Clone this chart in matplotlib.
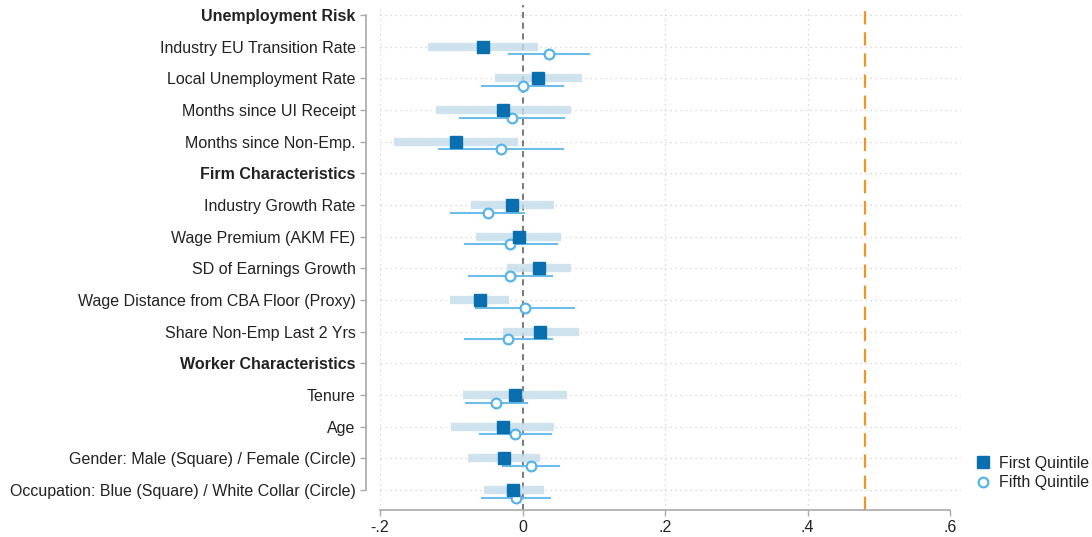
import matplotlib
matplotlib.use("Agg")
import matplotlib.pyplot as plt
from matplotlib.lines import Line2D
import numpy as np

plt.rcParams['font.family'] = ['Liberation Sans', 'DejaVu Sans']

labels = [
    "Unemployment Risk",
    "Industry EU Transition Rate",
    "Local Unemployment Rate",
    "Months since UI Receipt",
    "Months since Non-Emp.",
    "Firm Characteristics",
    "Industry Growth Rate",
    "Wage Premium (AKM FE)",
    "SD of Earnings Growth",
    "Wage Distance from CBA Floor (Proxy)",
    "Share Non-Emp Last 2 Yrs",
    "Worker Characteristics",
    "Tenure",
    "Age",
    "Gender: Male (Square) / Female (Circle)",
    "Occupation: Blue (Square) / White Collar (Circle)",
]
headers = ["Unemployment Risk", "Firm Characteristics", "Worker Characteristics"]

nan = np.nan
# First quintile (square): point, lower, upper
q1_est = [nan, -0.056, 0.022, -0.028, -0.094, nan, -0.015, -0.005, 0.023, -0.060, 0.024, nan, -0.011, -0.028, -0.026, -0.013]
q1_lo  = [nan, -0.133, -0.039, -0.122, -0.181, nan, -0.073, -0.065, -0.022, -0.102, -0.028, nan, -0.084, -0.100, -0.077, -0.054]
q1_hi  = [nan, 0.022, 0.084, 0.068, -0.006, nan, 0.044, 0.054, 0.068, -0.019, 0.079, nan, 0.063, 0.044, 0.025, 0.030]
# Fifth quintile (circle)
q5_est = [nan, 0.037, 0.000, -0.0145, -0.030, nan, -0.049, -0.017, -0.017, 0.003, -0.020, nan, -0.037, -0.010, 0.012, -0.009]
q5_lo  = [nan, -0.021, -0.058, -0.089, -0.119, nan, -0.102, -0.082, -0.076, -0.067, -0.082, nan, -0.081, -0.061, -0.029, -0.058]
q5_hi  = [nan, 0.095, 0.058, 0.060, 0.058, nan, 0.004, 0.049, 0.042, 0.074, 0.043, nan, 0.008, 0.041, 0.053, 0.040]

ref_line = 0.48
xticks = [-0.2, 0.0, 0.2, 0.4, 0.6]
xticklabels = ["-.2", "0", ".2", ".4", ".6"]

c_sq = '#0a6fae'
c_band = '#c4dceb'
c_ci = '#6cbde9'
c_circ = '#56b4e9'
c_orange = '#ee9526'
FS = 11.5

fig = plt.figure(figsize=(10.92, 5.37), dpi=100)
ax = fig.add_axes([380/1092, 1 - 510/537, (961-380)/1092, (510-5)/537])

for s in ['top', 'right']:
    ax.spines[s].set_visible(False)
ax.spines['left'].set_position(('outward', 10))

n = len(labels)
y = np.arange(n)
off = 0.24

# grid
for yi in y:
    ax.axhline(yi, color='#cfcfcf', lw=0.9, ls=(0, (1, 3)), zorder=0)
for gx in [-0.2, 0.2, 0.4]:
    ax.axvline(gx, color='#cfcfcf', lw=0.9, ls=(0, (1, 3)), zorder=0)

ax.axvline(0, color='#555555', lw=1.1, ls=(0, (4, 3)), zorder=1)
ax.axvline(ref_line, color=c_orange, lw=1.6, ls=(0, (6, 3.5)), zorder=1)

q1_est = np.array(q1_est); q1_lo = np.array(q1_lo); q1_hi = np.array(q1_hi)
q5_est = np.array(q5_est); q5_lo = np.array(q5_lo); q5_hi = np.array(q5_hi)
m = ~np.isnan(q1_est)

ax.hlines(y[m], q1_lo[m], q1_hi[m], color=c_band, lw=6, alpha=0.8, zorder=2, capstyle='butt')
ax.hlines(y[m] + off, q5_lo[m], q5_hi[m], color=c_ci, lw=1.5, zorder=3)
ax.plot(q1_est[m], y[m], 's', color=c_sq, ms=8, mec=c_sq, zorder=5)
ax.plot(q5_est[m], y[m] + off, 'o', mfc='white', mec=c_circ, mew=1.6, ms=7, zorder=4)

ax.set_xlim(-0.2, 0.615)
ax.set_ylim(n - 1 + 0.63, -0.32)
ax.set_yticks(y)
ax.set_yticklabels(labels, fontsize=FS, color='#222222')
for t in ax.get_yticklabels():
    if t.get_text() in headers:
        t.set_fontweight('bold')
ax.set_xticks(xticks)
ax.set_xticklabels(xticklabels, fontsize=FS, color='#222222')

ax.spines['left'].set_bounds(0, n - 1)
ax.spines['bottom'].set_bounds(-0.2, 0.6)
for s in ['left', 'bottom']:
    ax.spines[s].set_color('#aaaaaa')
    ax.spines[s].set_linewidth(1.2)
ax.tick_params(axis='both', colors='#aaaaaa', labelcolor='#222222', length=4.5, width=1.0)
ax.tick_params(axis='y', pad=3)
ax.tick_params(axis='x', pad=3)

handles = [
    Line2D([], [], marker='s', ls='none', color=c_sq, ms=8),
    Line2D([], [], marker='o', ls='none', mfc='white', mec=c_circ, mew=1.6, ms=7),
]
fig.legend(handles, ["First Quintile", "Fifth Quintile"], loc='center left',
           bbox_to_anchor=(975/1092, 1 - 473/537), frameon=False, fontsize=FS,
           handletextpad=0.5, labelspacing=0.3, handlelength=1.0, borderaxespad=0,
           borderpad=0, labelcolor='#222222')

fig.savefig('out.png', dpi=100)
